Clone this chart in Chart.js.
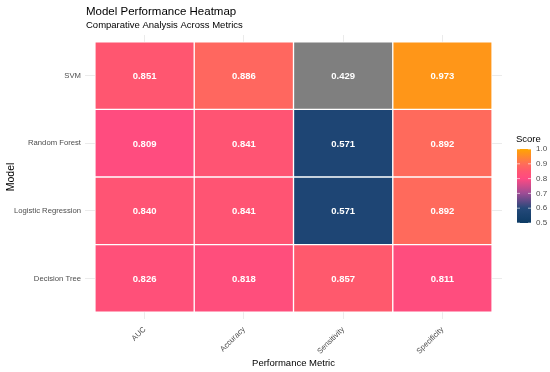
<!DOCTYPE html>
<html>
<head>
<meta charset="utf-8">
<script src="https://cdn.jsdelivr.net/npm/chart.js@4/dist/chart.umd.min.js"></script>
<style>
  html, body { margin: 0; padding: 0; background: #fff; }
  #wrap { width: 550px; height: 372px; }
</style>
</head>
<body>
<div id="wrap"><canvas id="heatmap"></canvas></div>
<script>
// rows bottom -> top, columns left -> right
const models = ['Decision Tree', 'Logistic Regression', 'Random Forest', 'SVM'];
const metrics = ['AUC', 'Accuracy', 'Sensitivity', 'Specificity'];
const aucVals = [0.826, 0.840, 0.809, 0.851];
const accuracyVals = [0.818, 0.841, 0.841, 0.886];
const sensitivityVals = [0.857, 0.571, 0.571, 0.429];
const specificityVals = [0.811, 0.892, 0.892, 0.973];
const scoreTicks = [0.5, 0.6, 0.7, 0.8, 0.9, 1.0];

const byMetric = [aucVals, accuracyVals, sensitivityVals, specificityVals];
const FONT = '"Liberation Sans", Arial, sans-serif';

// colour scale for fill (limits 0.5 - 1.0, NA grey below)
const stops = [
    [0.5, [13, 59, 100]],
    [0.6, [37, 73, 122]],
    [0.7, [156, 76, 149]],
    [0.8, [255, 74, 130]],
    [0.85, [255, 86, 112]],
    [0.9, [255, 110, 88]],
    [1.0, [255, 165, 0]]
];
function scoreColor(v) {
    if (v < 0.5 || v > 1) return '#7F7F7F';
    for (let i = 1; i < stops.length; i++) {
        if (v <= stops[i][0]) {
            const a = stops[i - 1], b = stops[i];
            const t = (v - a[0]) / (b[0] - a[0]);
            const c = a[1].map((x, k) => Math.round(x + t * (b[1][k] - x)));
            return `rgb(${c[0]},${c[1]},${c[2]})`;
        }
    }
    return 'rgb(255,165,0)';
}

const datasets = models.map((m, i) => ({
    label: m,
    data: metrics.map((k, j) => ({ x: j, y: [i - 0.5, i + 0.5], v: byMetric[j][i] })),
    backgroundColor: metrics.map((k, j) => scoreColor(byMetric[j][i])),
    borderColor: '#ffffff',
    borderWidth: 1,
    borderSkipped: false,
    grouped: false,
    barPercentage: 1,
    categoryPercentage: 1
}));

const cellLabels = {
    id: 'cellLabels',
    afterDatasetsDraw(chart) {
        const ctx = chart.ctx;
        ctx.save();
        ctx.fillStyle = '#ffffff';
        ctx.font = 'bold 9.5px ' + FONT;
        ctx.textAlign = 'center';
        ctx.textBaseline = 'middle';
        chart.data.datasets.forEach((ds, i) => {
            chart.getDatasetMeta(i).data.forEach((bar, j) => {
                ctx.fillText(ds.data[j].v.toFixed(3), bar.x, (bar.y + bar.base) / 2 + 1);
            });
        });
        ctx.restore();
    }
};

const titles = {
    id: 'titles',
    afterDraw(chart) {
        const ctx = chart.ctx;
        ctx.save();
        ctx.fillStyle = '#000';
        ctx.textAlign = 'left';
        ctx.textBaseline = 'alphabetic';
        ctx.font = '11.5px ' + FONT;
        ctx.fillText('Model Performance Heatmap', 86, 15);
        ctx.font = '9.5px ' + FONT;
        ctx.fillText('Comparative Analysis Across Metrics', 86, 28);
        ctx.restore();
    }
};

const colorbar = {
    id: 'colorbar',
    afterDraw(chart) {
        const ctx = chart.ctx;
        const x = 517, w = 14, top = 149, bottom = 223;
        ctx.save();
        ctx.fillStyle = '#000';
        ctx.font = '9.5px ' + FONT;
        ctx.textAlign = 'left';
        ctx.fillText('Score', 516, 142);
        const g = ctx.createLinearGradient(0, bottom, 0, top);
        for (let s = 0; s <= 50; s++) {
            g.addColorStop(s / 50, scoreColor(0.5 + s / 100));
        }
        ctx.fillStyle = g;
        ctx.fillRect(x, top, w, bottom - top);
        ctx.font = '8px ' + FONT;
        ctx.textBaseline = 'middle';
        scoreTicks.forEach(t => {
            const y = bottom - (t - 0.5) / 0.5 * (bottom - top);
            ctx.strokeStyle = 'rgba(255,255,255,0.6)';
            ctx.lineWidth = 1;
            ctx.beginPath();
            ctx.moveTo(x, y); ctx.lineTo(x + 3, y);
            ctx.moveTo(x + w - 3, y); ctx.lineTo(x + w, y);
            ctx.stroke();
            ctx.fillStyle = '#4D4D4D';
            ctx.fillText(t.toFixed(1), 536, y);
        });
        ctx.restore();
    }
};

new Chart(document.getElementById('heatmap'), {
    type: 'bar',
    data: { datasets: datasets },
    options: {
        responsive: true,
        maintainAspectRatio: false,
        animation: false,
        events: [],
        layout: { padding: { top: 35, right: 48, left: 0, bottom: 0 } },
        plugins: {
            legend: { display: false },
            tooltip: { enabled: false },
            title: { display: false }
        },
        scales: {
            x: {
                type: 'linear',
                offset: false,
                min: -0.6,
                max: 3.6,
                afterBuildTicks: s => { s.ticks = metrics.map((m, j) => ({ value: j })); },
                afterFit: s => { s.height = 53; },
                grid: { color: '#EBEBEB', drawTicks: false, offset: false },
                border: { display: false },
                ticks: {
                    callback: v => metrics[v],
                    maxRotation: 45,
                    minRotation: 45,
                    padding: 6,
                    color: '#4D4D4D',
                    font: { family: FONT, size: 7.7 }
                },
                title: {
                    display: true,
                    text: 'Performance Metric',
                    color: '#000',
                    padding: { top: 0, bottom: 3 },
                    font: { family: FONT, size: 9.5 }
                }
            },
            y: {
                type: 'linear',
                min: -0.6,
                max: 3.6,
                afterBuildTicks: s => { s.ticks = models.map((m, i) => ({ value: i })); },
                afterFit: s => { s.width = 85; },
                grid: { color: '#EBEBEB', drawTicks: false },
                border: { display: false },
                ticks: {
                    callback: v => models[v],
                    padding: 4,
                    color: '#4D4D4D',
                    font: { family: FONT, size: 7.7 }
                },
                title: {
                    display: true,
                    text: 'Model',
                    color: '#000',
                    padding: { top: 5, bottom: 0 },
                    font: { family: FONT, size: 10.5 }
                }
            }
        }
    },
    plugins: [cellLabels, titles, colorbar]
});
</script>
</body>
</html>
